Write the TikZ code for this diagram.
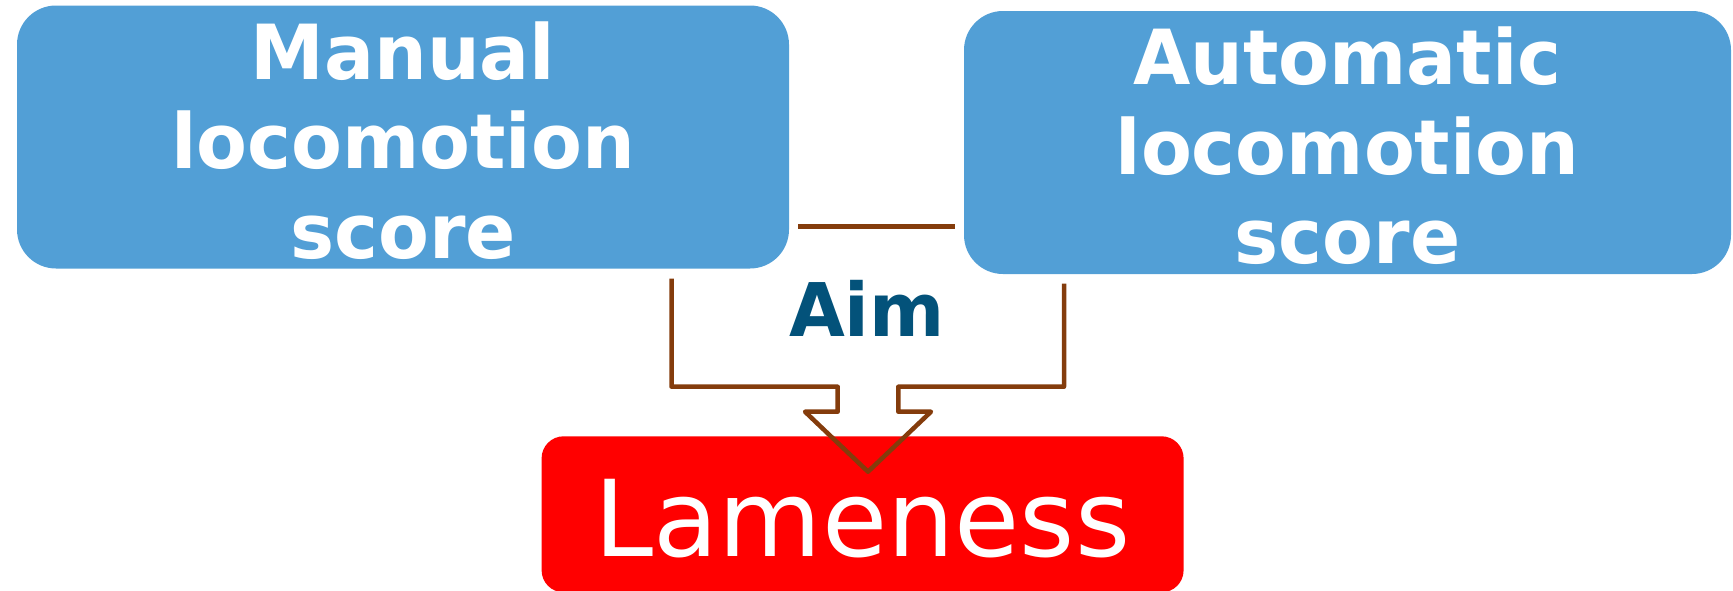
\documentclass[tikz,border=0pt]{standalone}
\usepackage{fontspec}
\setmainfont{DejaVu Sans}[BoldFeatures={FakeStretch=0.975}]
\definecolor{boxblue}{HTML}{529FD6}
\definecolor{linkbrown}{HTML}{843C0C}
\definecolor{aimteal}{HTML}{03527A}
\newcommand{\topstrut}[1]{\rule{0pt}{#1}}
\begin{document}
\begin{tikzpicture}[x=1pt,y=-1pt,
  scorebox/.style={fill=boxblue, rounded corners=39pt, text=white, align=center,
    font=\bfseries\fontsize{76}{89.5}\selectfont, inner sep=0pt},
  resultbox/.style={fill=red, rounded corners=22pt, text=white,
    font=\fontsize{106}{127}\selectfont, inner sep=0pt},
  link/.style={draw=linkbrown, line width=4.5pt, line join=round}]
\useasboundingbox (0,0) rectangle (1733,590);

% the two scoring methods
\node[scorebox, minimum width=772pt, minimum height=263pt] (man) at (403,137)
  {\topstrut{65pt}Manual\\locomotion\\score};
\node[scorebox, minimum width=767pt, minimum height=263pt] (auto) at (1347.5,142.5)
  {\topstrut{65pt}Automatic\\locomotion\\score};

% the outcome
\node[resultbox, minimum width=642pt, minimum height=156pt] (lame) at (862.6,514.3)
  {\topstrut{86pt}Lameness};

% label of the merging arrow
\node[text=aimteal, font=\bfseries\fontsize{74}{89}\selectfont, anchor=base, inner sep=0pt]
  (aim) at (867,336) {Aim};

% link between the two methods
\coordinate (hl) at (798,226.6);
\coordinate (hr) at (955,226.6);
\draw[link] (hl) -- (hr);

% merging arrow, outline only
\coordinate (ls) at (671.5,278.5);
\coordinate (rs) at (1064,283.5);
\coordinate (tip) at (868,471.7);
\draw[link] (ls) -- (671.5,386.7) -- (837.7,386.7) -- (837.7,411.7) -- (805,411.7)
  -- (tip) -- (931,411.7) -- (898.3,411.7) -- (898.3,386.7) -- (1064,386.7) -- (rs);
\end{tikzpicture}
\end{document}
